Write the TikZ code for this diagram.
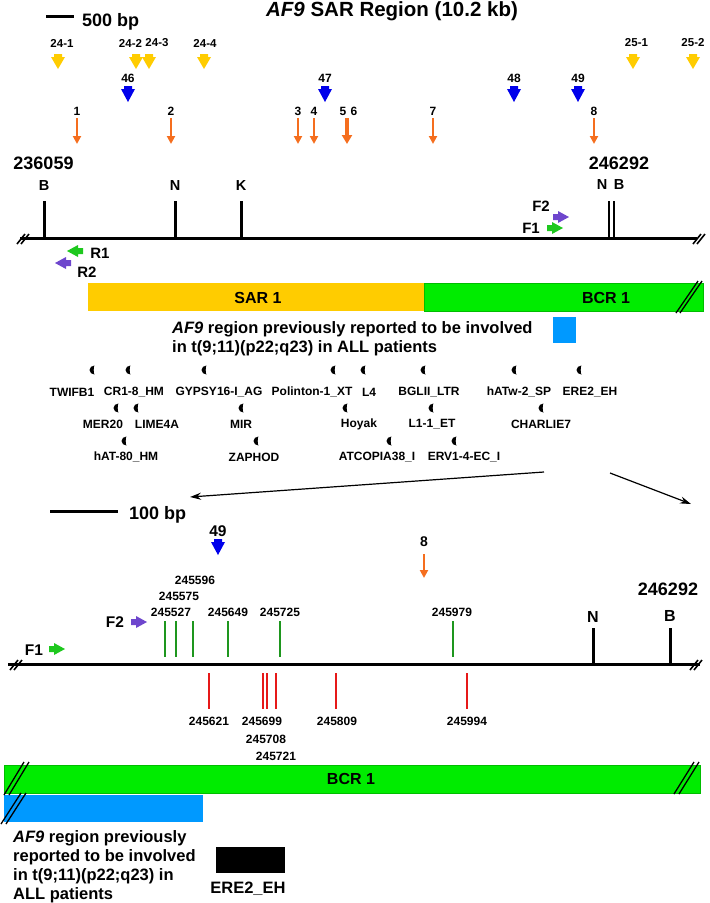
\documentclass[tikz,border=0pt]{standalone}
\usepackage{fontspec}
\setmainfont{Liberation Sans}
\usetikzlibrary{positioning}
\usetikzlibrary{arrows.meta}

\definecolor{sargold}{RGB}{255,204,0}
\definecolor{bcrgreen}{RGB}{0,236,0}
\definecolor{orangearr}{RGB}{245,110,30}
\definecolor{bluearr}{RGB}{0,0,235}
\definecolor{primgreen}{RGB}{30,200,30}
\definecolor{primpurple}{RGB}{110,70,205}
\definecolor{tickgreen}{RGB}{30,150,30}
\definecolor{tickred}{RGB}{230,25,25}
\definecolor{prevblue}{RGB}{0,153,255}

\begin{document}
\begin{tikzpicture}[x=1pt,y=-1pt,
        num/.style = {font=\bfseries\fontsize{11.5}{13}\selectfont,inner sep=0pt},
        rep/.style = {font=\bfseries\fontsize{12}{14}\selectfont,inner sep=0pt},
        site/.style = {font=\bfseries\fontsize{14.5}{16}\selectfont,inner sep=0pt},
        big/.style = {font=\bfseries\fontsize{18}{20}\selectfont,inner sep=0pt},
        barlabel/.style = {font=\bfseries\fontsize{16}{18}\selectfont,inner sep=0pt},
        note/.style = {font=\bfseries\fontsize{16.5}{19.5}\selectfont,inner sep=0pt,align=left},
        dna/.style = {line width=3pt},
        brk/.style = {line width=1.6pt},
        oarrow/.style = {orangearr,line width=2pt,-{Triangle[width=8pt,length=8pt]}},
        zoomline/.style = {line width=1.2pt,-{Stealth[length=11pt,width=7pt]}}]
    \useasboundingbox (0,0) rectangle (710,903);

    % title and scale
    \node[font=\bfseries\fontsize{20.5}{22}\selectfont,inner sep=0pt,anchor=base] (title) at (392,16)
        {\textit{AF9} SAR Region (10.2 kb)};
    \coordinate (sb0) at (46,16);
    \coordinate (sb1) at (74,16);
    \draw[dna] (sb0) -- (sb1);
    \node[big,anchor=base west] (sblabel) at (82,26) {500 bp};

    % SAR/BCR probes
    \foreach \x/\lx/\t [count=\i] in {58/62/24-1,136/130.5/24-2,149/157/24-3,204/205/24-4,633/636.5/25-1,693/693/25-2} {
        \fill[sargold] (\x,54) ++(-4,0) -- ++(8,0) -- ++(0,3) -- ++(3,0) -- ++(-7,12) -- ++(-7,-12) -- ++(3,0) -- cycle;
        \node[num] (yel\i) at (\lx,43) {\t};
    }
    \foreach \x/\t [count=\i] in {128/46,325/47,514/48,578/49} {
        \fill[bluearr] (\x,86) ++(-4,0) -- ++(8,0) -- ++(0,3) -- ++(3,0) -- ++(-7,13) -- ++(-7,-13) -- ++(3,0) -- cycle;
        \node[num,font=\bfseries\fontsize{12}{14}\selectfont] (blu\i) at (\x,78) {\t};
    }
    \foreach \x/\t [count=\i] in {77/1,171/2,298/3,314/4,433/7,594/8} {
        \draw[oarrow] (\x,118) -- (\x,144);
        \node[num,font=\bfseries\fontsize{12}{14}\selectfont] (ora\i) at (\x,111) {\t};
    }
    \draw[oarrow,line width=4pt,-{Triangle[width=10pt,length=9pt]}] (347,118) -- (347,144);
    \node[num,font=\bfseries\fontsize{12}{14}\selectfont] (ora5) at (343,111) {5};
    \node[num,font=\bfseries\fontsize{12}{14}\selectfont] (ora6) at (354,111) {6};

    % upper map
    \node[big] (start) at (43.5,163) {236059};
    \node[big] (stop) at (619,163) {246292};
    \draw[dna] (20,238) -- (697,238);
    \foreach \x/\t [count=\i] in {44/B,175/N,241/K} {
        \draw[dna] (\x,201) -- (\x,238);
        \node[site] (site\i) at (\x,186) {\t};
    }
    \draw[line width=2pt] (609,201) -- (609,238);
    \draw[line width=2pt] (614,201) -- (614,238);
    \node[site] (site4) at (602,185) {N};
    \node[site] (site5) at (619,185) {B};
    \foreach \bx/\by in {24/239,700/239,17/665,697/665} {
        \draw[brk] (\bx-7,\by+5) -- (\bx+1,\by-5);
        \draw[brk] (\bx-3,\by+5) -- (\bx+5,\by-5);
    }

    % primers
    \fill[primgreen] (67,251) -- ++(11,-6) -- ++(0,3) -- ++(5,0) -- ++(0,6) -- ++(-5,0) -- ++(0,3) -- cycle;
    \fill[primpurple] (55,263) -- ++(11,-6) -- ++(0,3) -- ++(5,0) -- ++(0,6) -- ++(-5,0) -- ++(0,3) -- cycle;
    \fill[primpurple] (569,217) -- ++(-11,-6) -- ++(0,3) -- ++(-5,0) -- ++(0,6) -- ++(5,0) -- ++(0,3) -- cycle;
    \fill[primgreen] (563,228) -- ++(-11,-6) -- ++(0,3) -- ++(-5,0) -- ++(0,6) -- ++(5,0) -- ++(0,3) -- cycle;
    \node[site,font=\bfseries\fontsize{15}{17}\selectfont] (r1) at (100,253) {R1};
    \node[site,font=\bfseries\fontsize{15}{17}\selectfont] (r2) at (87,272) {R2};
    \node[site,font=\bfseries\fontsize{15}{17}\selectfont] (f2) at (541,206) {F2};
    \node[site,font=\bfseries\fontsize{15}{17}\selectfont] (f1) at (531,228) {F1};

    % regions
    \fill[sargold] (88,283) rectangle (424,311);
    \filldraw[fill=bcrgreen,draw=bcrgreen!80!black,line width=0.4pt] (424,283) rectangle (703,311);
    \node[barlabel] (sar) at (258,298) {SAR 1};
    \node[barlabel] (bcr) at (606,298) {BCR 1};
    \draw[brk,line width=1.3pt] (676,313) -- (698,281);
    \draw[brk,line width=1.3pt] (680,313) -- (702,281);
    \node[note,anchor=base west] (prev) at (172,352.5)
        {\textit{AF9} region previously reported to be involved\\in t(9;11)(p22;q23) in ALL patients};
    \fill[prevblue] (553,317) rectangle (576,343);

    % repeats
    \foreach \mx/\my/\lx/\ly/\t [count=\i] in {
            92/370/72/392/TWIFB1, 128/370/134/392/CR1-8\_HM, 204/370/219/392/GYPSY16-I\_AG,
            333/370/312/392/Polinton-1\_XT, 363/370/369/392/L4, 423/370/429/392/BGLII\_LTR,
            514/370/519/392/hATw-2\_SP, 579/370/590/392/ERE2\_EH,
            116/408/103/424/MER20, 136/408/157/424/LIME4A, 241/408/241/424/MIR,
            345/408/359/424/Hoyak, 431/408/432/424/L1-1\_ET, 541/408/541/424/CHARLIE7,
            124/441/126/457/hAT-80\_HM, 256/441/254/457/ZAPHOD,
            389/441/377/457/ATCOPIA38\_I, 454/441/464/457/ERV1-4-EC\_I} {
        \fill (\mx+2.5,\my+4.5) arc[start angle=90,end angle=270,x radius=5,y radius=4.5]
            arc[start angle=270,end angle=90,x radius=0.8,y radius=4.5];
        \node[rep] (rep\i) at (\lx,\ly) {\t};
    }

    % zoom
    \coordinate (zl0) at (544,472);
    \coordinate (zl1) at (190,497);
    \coordinate (zr0) at (610,473);
    \coordinate (zr1) at (691,504);
    \draw[zoomline] (zl0) -- (zl1);
    \draw[zoomline] (zr0) -- (zr1);

    % lower map
    \coordinate (lb0) at (50,511);
    \coordinate (lb1) at (118,511);
    \draw[dna] (lb0) -- (lb1);
    \node[big,anchor=base west] (lblabel) at (129,519) {100 bp};
    \fill[bluearr] (218,539) ++(-4,0) -- ++(8,0) -- ++(0,3) -- ++(3,0) -- ++(-7,13) -- ++(-7,-13) -- ++(3,0) -- cycle;
    \node[num,font=\bfseries\fontsize{15.5}{17}\selectfont] (blu49) at (218,531) {49};
    \draw[oarrow] (424,554) -- (424,578);
    \node[num,font=\bfseries\fontsize{14}{16}\selectfont] (ora8) at (424,542) {8};
    \node[big] (stop2) at (668,589) {246292};

    \draw[dna] (8,664) -- (700,664);
    \draw[dna] (593,628) -- (593,664);
    \draw[dna] (670,628) -- (670,664);
    \node[site,font=\bfseries\fontsize{16}{18}\selectfont] (n2) at (593,617) {N};
    \node[site,font=\bfseries\fontsize{16}{18}\selectfont] (b2) at (670,616) {B};

    \foreach \x/\lx/\ly/\t [count=\i] in {165/171/612/245527,176/179/596/245575,193/195/580/245596,
            228/228/612/245649,280/280/612/245725,453/452/612/245979} {
        \draw[tickgreen,line width=2pt] (\x,621) -- (\x,657);
        \node[rep] (gs\i) at (\lx,\ly) {\t};
    }
    \foreach \x/\lx/\ly/\t [count=\i] in {209/209/721/245621,263/262/721/245699,267/266/739/245708,
            276/276/756/245721,336/337/721/245809,467/467/721/245994} {
        \draw[tickred,line width=2pt] (\x,673) -- (\x,709);
        \node[rep] (rs\i) at (\lx,\ly) {\t};
    }

    \fill[primpurple] (147,622) -- ++(-11,-6) -- ++(0,3) -- ++(-5,0) -- ++(0,6) -- ++(5,0) -- ++(0,3) -- cycle;
    \fill[primgreen] (65,649) -- ++(-11,-6) -- ++(0,3) -- ++(-5,0) -- ++(0,6) -- ++(5,0) -- ++(0,3) -- cycle;
    \node[site,font=\bfseries\fontsize{15.5}{17}\selectfont] (f2b) at (115,622) {F2};
    \node[site,font=\bfseries\fontsize{15.5}{17}\selectfont] (f1b) at (34,650) {F1};

    \filldraw[fill=bcrgreen,draw=bcrgreen!80!black,line width=0.4pt] (4,765) rectangle (700,793);
    \node[barlabel] (bcr2) at (351,779) {BCR 1};
    \fill[prevblue] (4,795) rectangle (203,822);
    \foreach \ax/\ay/\bx/\by in {4/795/24/762,674/794/694/762,1/824/21/793} {
        \draw[brk,line width=1.3pt] (\ax,\ay) -- (\bx,\by);
        \draw[brk,line width=1.3pt] (\ax+5,\ay) -- (\bx+5,\by);
    }
    \node[note,font=\bfseries\fontsize{16.5}{19}\selectfont,anchor=base west] (prev2) at (13,899)
        {\textit{AF9} region previously\\reported to be involved\\in t(9;11)(p22;q23) in\\ALL patients};
    \fill (216,847) rectangle (285,873);
    \node[note] (ere) at (248,889) {ERE2\_EH};
\end{tikzpicture}
\end{document}
